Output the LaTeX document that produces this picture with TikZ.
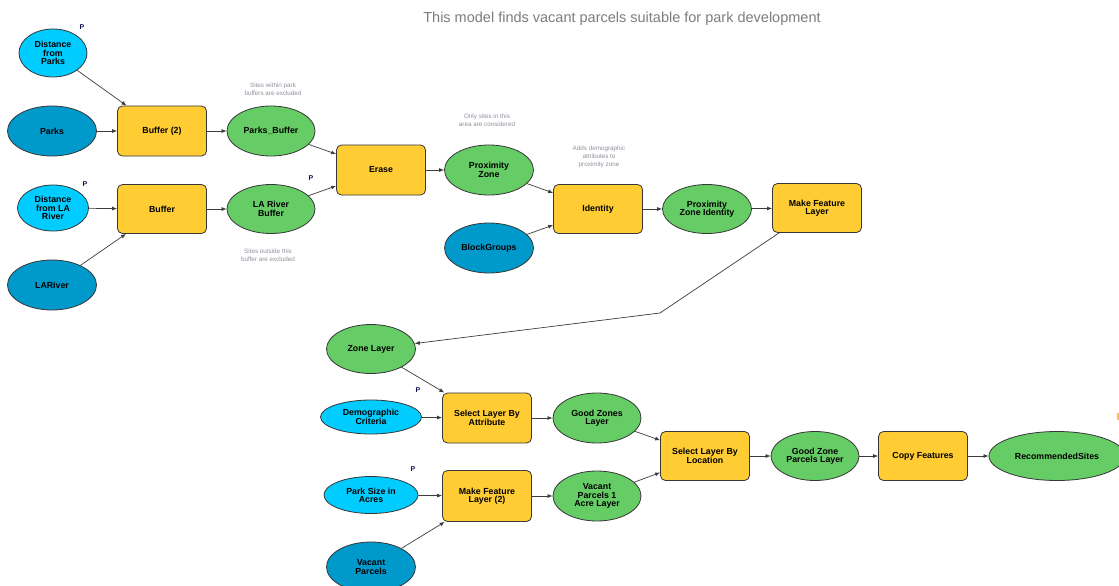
\documentclass[tikz,border=0pt]{standalone}
\usepackage{fontspec}
\setmainfont{Liberation Sans}
\usetikzlibrary{shapes.geometric,arrows.meta}
\definecolor{procfill}{RGB}{255,204,51}
\definecolor{datafill}{RGB}{102,204,102}
\definecolor{paramfill}{RGB}{0,204,255}
\definecolor{inputfill}{RGB}{0,153,204}
\definecolor{bordercol}{RGB}{55,55,55}
\definecolor{linkcol}{RGB}{60,60,60}
\definecolor{notecol}{RGB}{140,146,156}
\definecolor{titlecol}{RGB}{125,125,125}
\definecolor{pcol}{RGB}{15,20,80}
\definecolor{markcol}{RGB}{255,190,90}
\tikzset{
  nodetext/.style={font=\bfseries\fontsize{8.8}{8.3}\selectfont, text=black, align=center, inner sep=0pt},
  procbox/.style={nodetext, draw=bordercol, line width=0.8pt, fill=procfill, rectangle, rounded corners=5pt, minimum width=89pt, minimum height=50pt},
  ovalbase/.style={nodetext, draw=bordercol, line width=0.8pt, ellipse, minimum width=89pt, minimum height=50pt},
  dataoval/.style={ovalbase, fill=datafill},
  paramoval/.style={ovalbase, fill=paramfill},
  inputoval/.style={ovalbase, fill=inputfill},
  note/.style={font=\fontsize{6.3}{8}\selectfont, text=notecol, align=center, inner sep=0pt},
  plabel/.style={font=\bfseries\fontsize{7}{7}\selectfont, text=pcol, inner sep=0pt},
  link/.style={draw=linkcol, line width=0.7pt, -{Latex[length=5pt,width=4pt]}}
}
\begin{document}
\begin{tikzpicture}[x=1pt,y=-1pt]
\useasboundingbox (0,0) rectangle (1119,586);
\fill[white] (0,0) rectangle (1119,586);

\node[font=\fontsize{14.5}{16}\selectfont, text=titlecol, inner sep=0pt] (title) at (622,19) {This model finds vacant parcels suitable for park development};

% upper chain
\node[paramoval, minimum width=68pt, minimum height=48pt] (dp) at (53,53) {Distance\\from\\Parks};
\node[inputoval] (parks) at (52,131) {Parks};
\node[procbox] (b2) at (162,131) {Buffer (2)};
\node[dataoval, minimum width=88pt] (pb) at (271,131) {Parks\_Buffer};
\node[paramoval, minimum width=71pt, minimum height=46pt] (dla) at (53,208) {Distance\\from LA\\River};
\node[procbox, minimum height=49pt] (buf) at (162,209) {Buffer};
\node[dataoval, minimum width=88pt, minimum height=49pt] (lrb) at (271,209) {LA River\\Buffer};
\node[inputoval] (lar) at (52,285) {LARiver};
\node[procbox] (erase) at (381,170) {Erase};
\node[dataoval] (pz) at (489,170) {Proximity\\Zone};
\node[procbox, minimum height=49pt] (ident) at (598,209) {Identity};
\node[inputoval] (bg) at (489,248) {BlockGroups};
\node[dataoval, minimum height=49pt] (pzi) at (707,209) {Proximity\\Zone Identity};
\node[procbox, minimum height=49pt] (mfl) at (817,208) {Make Feature\\Layer};

% lower chain
\node[dataoval, minimum height=49pt] (zl) at (371,349) {Zone Layer};
\node[paramoval, minimum width=101pt, minimum height=34pt] (dc) at (371,417) {Demographic\\Criteria};
\node[procbox] (slba) at (487,418) {Select Layer By\\Attribute};
\node[dataoval, minimum width=88pt] (gzl) at (597,418) {Good Zones\\Layer};
\node[paramoval, minimum width=94pt, minimum height=37pt] (psa) at (371,495) {Park Size in\\Acres};
\node[procbox, minimum height=51pt] (mfl2) at (487,496) {Make Feature\\Layer (2)};
\node[dataoval, minimum width=88pt] (vp1) at (597,496) {Vacant\\Parcels 1\\Acre Layer};
\node[inputoval] (vp) at (371,567) {Vacant\\Parcels};
\node[procbox, minimum height=49pt] (slbl) at (705,456) {Select Layer By\\Location};
\node[dataoval, minimum width=88pt, minimum height=49pt] (gzpl) at (815,456) {Good Zone\\Parcels Layer};
\node[procbox, minimum height=49pt] (cf) at (923,456) {Copy Features};
\node[dataoval, minimum width=136pt, minimum height=49pt] (rs) at (1057,456) {RecommendedSites};

% notes
\node[note] (n1) at (273,89) {Sites within park\\buffers are excluded};
\node[note] (n2) at (268,255) {Sites outside this\\buffer are excluded};
\node[note] (n3) at (487,120) {Only sites in this\\area are considered};
\node[note] (n4) at (599,157) {Adds demographic\\attributes to\\proximity zone};

% P labels
\node[plabel] (p1) at (82,27) {P};
\node[plabel] (p2) at (85,184) {P};
\node[plabel] (p3) at (311,178) {P};
\node[plabel] (p4) at (418,390) {P};
\node[plabel] (p5) at (413,469) {P};

\fill[markcol] (1117,413) rectangle (1119,420);

% connectors
\draw[link] (dp) -- (b2);
\draw[link] (parks) -- (b2);
\draw[link] (b2) -- (pb);
\draw[link] (pb) -- (erase);
\draw[link] (dla) -- (buf);
\draw[link] (lar) -- (buf);
\draw[link] (buf) -- (lrb);
\draw[link] (lrb) -- (erase);
\draw[link] (erase) -- (pz);
\draw[link] (pz) -- (ident);
\draw[link] (bg) -- (ident);
\draw[link] (ident) -- (pzi);
\draw[link] (pzi) -- (mfl);
\coordinate (bend) at (660,313);
\draw[link] ([xshift=7pt]mfl.south west) -- (bend) -- (zl);
\draw[link] (zl) -- (slba);
\draw[link] (dc) -- (slba);
\draw[link] (slba) -- (gzl);
\draw[link] (gzl) -- (slbl);
\draw[link] (psa) -- (mfl2);
\draw[link] (vp) -- (mfl2);
\draw[link] (mfl2) -- (vp1);
\draw[link] (vp1) -- (slbl);
\draw[link] (slbl) -- (gzpl);
\draw[link] (gzpl) -- (cf);
\draw[link] (cf) -- (rs);
\end{tikzpicture}
\end{document}
